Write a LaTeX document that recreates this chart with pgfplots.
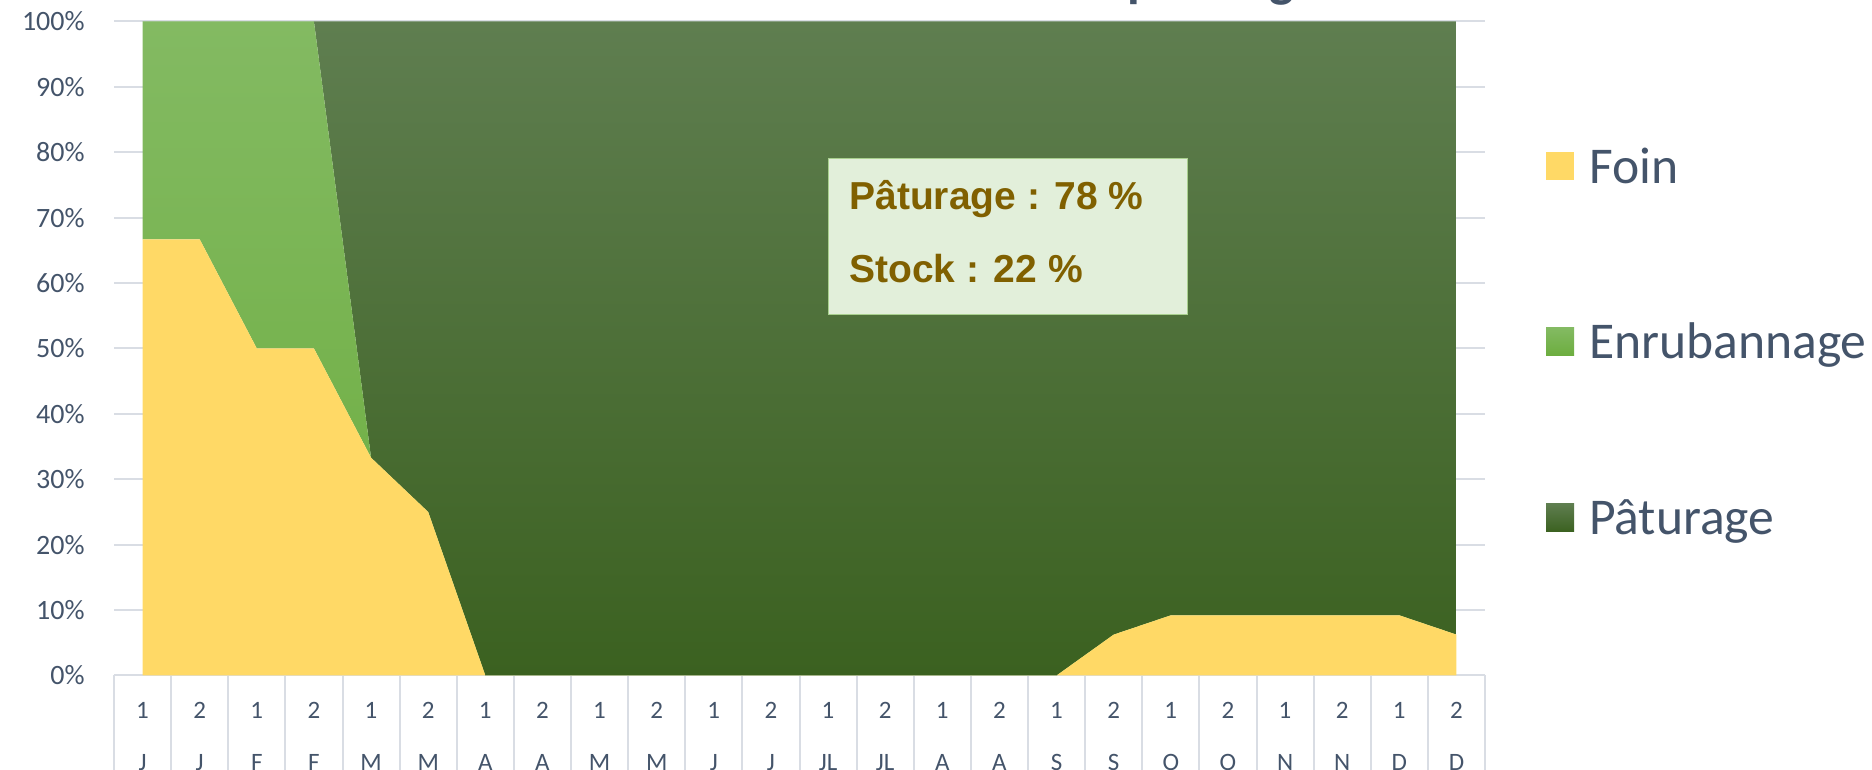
\documentclass[border=0pt]{standalone}
\usepackage{fontspec}
\setmainfont{Carlito}
\newfontfamily\boxfont{Liberation Sans}
\usepackage{pgfplots}
\pgfplotsset{compat=1.18}
\definecolor{txt}{HTML}{44546A}
\definecolor{gridc}{HTML}{D9DDE4}
\definecolor{foin}{HTML}{FFD966}
\definecolor{enrT}{HTML}{83BA62}
\definecolor{enrB}{HTML}{6CAD3E}
\definecolor{patT}{HTML}{5F7E50}
\definecolor{patB}{HTML}{3B6120}
\definecolor{boxf}{HTML}{E2EFDA}
\definecolor{boxd}{HTML}{A9D08E}
\definecolor{boxt}{HTML}{806000}
\begin{document}
\begin{tikzpicture}
\begin{axis}[
  set layers=standard,
  at={(0,0)}, anchor=south west,
  scale only axis, width=685.5pt, height=327pt,
  xmin=-0.5, xmax=23.5, ymin=0, ymax=100,
  stack plots=y,
  axis x line*=bottom, axis y line*=left,
  axis on top=false,
  y axis line style={draw=none},
  x axis line style={draw=gridc, line width=1pt, -},
  ytick={0,10,...,100},
  yticklabel={\pgfmathprintnumber{\tick}\%},
  ymajorgrids, major grid style={draw=gridc, line width=1pt},
  xtick={0,...,23},
  xticklabels={1,2,1,2,1,2,1,2,1,2,1,2,1,2,1,2,1,2,1,2,1,2,1,2},
  extra x ticks={0,...,23},
  extra x tick labels={J,J,F,F,M,M,A,A,M,M,J,J,JL,JL,A,A,S,S,O,O,N,N,D,D},
  extra x tick style={tick label style={yshift=-26.2pt}, major tick length=0pt},
  minor xtick={-0.5,0.5,...,23.5},
  tick align=outside,
  major tick length=0pt,
  minor tick length=60pt,
  minor x tick style={draw=gridc, line width=1pt},
  ytick style={draw=none},
  /pgf/number format/assume math mode=true,
  xticklabel style={anchor=base, inner sep=0pt, yshift=-21.45pt, font=\fontsize{12.5}{14}\selectfont, text=txt},
  yticklabel style={anchor=east, inner sep=0pt, xshift=-14.5pt, font=\fontsize{14}{16}\selectfont, text=txt},
  legend style={at={(rel axis cs:1.0445,0.5023)}, anchor=west, draw=none, fill=none,
    inner sep=0pt, outer sep=0pt, row sep=63.8pt,
    font=\fontsize{25.8}{30}\selectfont, text=txt,
    nodes={inner sep=0pt, text height=18pt, text depth=6pt},
    /tikz/every odd column/.append style={column sep=7.5pt}},
  legend cell align=left,
  legend image code/.code={\path[#1, draw=none] (0pt,-4.5pt) rectangle (14pt,9.5pt);},
]
\addplot[draw=none, fill=foin] coordinates {
(0,66.7) (1,66.7) (2,50) (3,50) (4,33.3) (5,25) (6,0) (7,0) (8,0) (9,0) (10,0) (11,0)
(12,0) (13,0) (14,0) (15,0) (16,0) (17,6.25) (18,9.2) (19,9.2) (20,9.2) (21,9.2) (22,9.2) (23,6.25)
} \closedcycle;
\addlegendentry{Foin}
\addplot[draw=none, top color=enrT, bottom color=enrB] coordinates {
(0,33.3) (1,33.3) (2,50) (3,50) (4,0) (5,0) (6,0) (7,0) (8,0) (9,0) (10,0) (11,0)
(12,0) (13,0) (14,0) (15,0) (16,0) (17,0) (18,0) (19,0) (20,0) (21,0) (22,0) (23,0)
} \closedcycle;
\addlegendentry{Enrubannage}
\addplot[draw=none, top color=patT, bottom color=patB] coordinates {
(0,0) (1,0) (2,0) (3,0) (4,66.7) (5,75) (6,100) (7,100) (8,100) (9,100) (10,100) (11,100)
(12,100) (13,100) (14,100) (15,100) (16,100) (17,93.75) (18,90.8) (19,90.8) (20,90.8) (21,90.8) (22,90.8) (23,93.75)
} \closedcycle;
\addlegendentry{Pâturage}
\end{axis}
\node[draw=boxd, fill=boxf, line width=0.6pt, minimum width=179.5pt, minimum height=78pt, anchor=south west, inner sep=0pt] at (357pt,180pt) {};
\node[anchor=base west, inner sep=0pt, text=boxt, font=\boxfont\bfseries\fontsize{19.5}{22}\selectfont] at (367.5pt,233pt) {Pâturage : 78 \%};
\node[anchor=base west, inner sep=0pt, text=boxt, font=\boxfont\bfseries\fontsize{19.5}{22}\selectfont] at (367.5pt,196.5pt) {Stock : 22 \%};
\node[anchor=base west, inner sep=0pt, text=txt, font=\bfseries\fontsize{26}{30}\selectfont] at (506.5pt,339.25pt) {pâturage};
\pgfresetboundingbox
\useasboundingbox (-57pt,-47.25pt) rectangle (879pt,337.75pt);
\end{tikzpicture}
\end{document}
